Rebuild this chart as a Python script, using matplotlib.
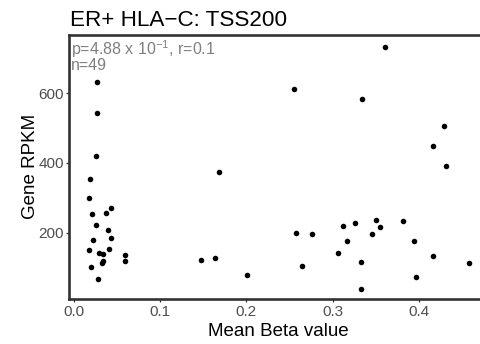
"""Scatter of gene expression vs mean methylation beta value."""

import matplotlib

matplotlib.use("Agg")
import matplotlib.pyplot as plt

plt.rcParams["font.family"] = ["Liberation Sans", "DejaVu Sans"]
plt.rcParams["mathtext.fontset"] = "custom"
plt.rcParams["mathtext.rm"] = "Liberation Sans"
plt.rcParams["mathtext.it"] = "Liberation Sans"

TITLE = "ER+ HLA\u2212C: TSS200"
X_LABEL = "Mean Beta value"
Y_LABEL = "Gene RPKM"
STATS_LINE = r"p=4.88 x 10$^{-1}$, r=0.1"
N_LINE = "n=49"

beta = [
    0.0270, 0.0270, 0.0259, 0.0189, 0.1686, 0.0177, 0.0212, 0.0368, 0.0429,
    0.0259, 0.0394, 0.0429, 0.0220, 0.0174, 0.0406, 0.0287, 0.0340, 0.0588,
    0.0333, 0.0325, 0.0592, 0.1473, 0.1639, 0.0194, 0.0275, 0.2010, 0.3611,
    0.2549, 0.3341, 0.4292, 0.4165, 0.4319, 0.3500, 0.3817, 0.3260, 0.3124,
    0.3550, 0.2575, 0.2761, 0.3461, 0.3167, 0.3941, 0.3059, 0.4165, 0.3326,
    0.2645, 0.4582, 0.3964, 0.3329,
]
rpkm = [
    631, 544, 420, 353, 373, 299, 254, 256, 272,
    221, 209, 185, 180, 150, 154, 141, 139, 137,
    120, 112, 120, 121, 126, 100, 68, 78, 734,
    612, 584, 506, 449, 392, 236, 234, 227, 218,
    217, 200, 195, 195, 175, 176, 142, 133, 117,
    105, 113, 72, 37,
]
x_ticks = [0.0, 0.1, 0.2, 0.3, 0.4]
y_ticks = [200, 400, 600]

W, H = 481, 344
fig = plt.figure(figsize=(W / 100, H / 100), dpi=100)
left, right, top, bottom = 69.3, 487.7, 34.7, 298.5
ax = fig.add_axes([left / W, 1 - bottom / H, (right - left) / W, (bottom - top) / H])

ax.scatter(beta, rpkm, s=16, color="black", linewidths=0, zorder=3)

ax.set_xlim(-0.0055, 0.480)
ax.set_ylim(11, 768)
ax.set_xticks(x_ticks)
ax.set_xticklabels([f"{t:.1f}" for t in x_ticks])
ax.set_yticks(y_ticks)

for side in ax.spines.values():
    side.set_color("#333333")
    side.set_linewidth(1.9)
ax.tick_params(length=2.2, width=0.9, color="#333333", labelcolor="#4d4d4d",
               labelsize=11, pad=1.5)
ax.tick_params(axis="x", pad=2.5)

ax.set_xlabel(X_LABEL, fontsize=13.5, labelpad=3)
ax.set_ylabel(Y_LABEL, fontsize=13.5, labelpad=0)

fig.text(70 / W, 1 - 25.5 / H, TITLE, fontsize=16.2, va="baseline", ha="left")
ax.text(0.004, 0.985, STATS_LINE + "\n" + N_LINE, transform=ax.transAxes,
        fontsize=11.5, color="#808080", va="top", ha="left", linespacing=0.78)

fig.savefig("out.png", dpi=100)
